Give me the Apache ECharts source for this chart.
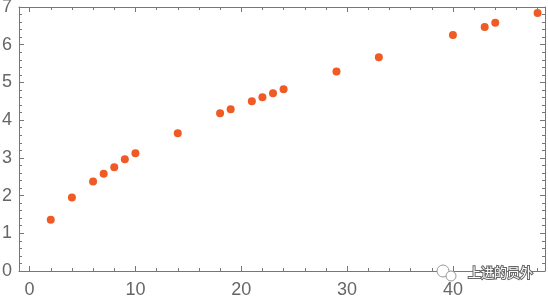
<!DOCTYPE html>
<html>
<head>
<meta charset="utf-8">
<script src="https://cdn.jsdelivr.net/npm/echarts@6/dist/echarts.min.js"></script>
<style>html,body{margin:0;padding:0;background:#fff}#c{width:548px;height:298px}</style>
</head>
<body>
<div id="c"></div>
<script>
const xValues = [2, 4, 6, 7, 8, 9, 10, 14, 18, 19, 21, 22, 23, 24, 29, 33, 40, 43, 44, 48];
const yValues = [1.36, 1.95, 2.37, 2.58, 2.75, 2.96, 3.12, 3.65, 4.18, 4.29, 4.50, 4.61, 4.71, 4.82, 5.29, 5.67, 6.26, 6.47, 6.58, 6.84];
const xMajorTicks = [0, 10, 20, 30, 40];
const xMinorTicks = [2, 4, 6, 8, 12, 14, 16, 18, 22, 24, 26, 28, 32, 34, 36, 38, 42, 44, 46, 48];
const watermark = '上进的员外';

const frameColor = '#777';
const labelColor = '#666';
const font = 'Liberation Sans';
const xMin = -1, xMax = 48.7;

function xAxisDef(pos, ticks, len, showLine, showLabel) {
  return {
    type: 'value', position: pos, min: xMin, max: xMax,
    axisLine: { show: showLine, onZero: false, lineStyle: { color: frameColor, width: 1 } },
    axisTick: { show: true, inside: true, length: len, customValues: ticks, lineStyle: { color: frameColor } },
    axisLabel: { show: showLabel, customValues: ticks, color: labelColor, fontSize: 18, fontFamily: font, margin: 10 },
    splitLine: { show: false }
  };
}
function yAxisDef(pos, showLabel) {
  return {
    type: 'value', position: pos, min: 0, max: 7, interval: 1,
    axisLine: { show: true, onZero: false, lineStyle: { color: frameColor, width: 1 } },
    axisTick: { show: true, inside: true, length: 5, lineStyle: { color: frameColor } },
    minorTick: { show: true, splitNumber: 5, length: 3, lineStyle: { color: frameColor } },
    axisLabel: { show: showLabel, color: labelColor, fontSize: 18, fontFamily: font, margin: 7 },
    splitLine: { show: false }
  };
}

const chart = echarts.init(document.getElementById('c'), null, { renderer: 'canvas' });
chart.setOption({
  animation: false,
  backgroundColor: '#fff',
  grid: { left: 19, right: 3, top: 7, bottom: 27, containLabel: false, outerBoundsMode: 'none' },
  xAxis: [
    xAxisDef('bottom', xMajorTicks, 5, true, true),
    xAxisDef('bottom', xMinorTicks, 3, false, false),
    xAxisDef('top', xMajorTicks, 5, true, false),
    xAxisDef('top', xMinorTicks, 3, false, false)
  ],
  yAxis: [yAxisDef('left', true), yAxisDef('right', false)],
  series: [{
    type: 'scatter',
    xAxisIndex: 0, yAxisIndex: 0,
    symbolSize: 8,
    itemStyle: { color: '#F05A24', opacity: 1 },
    data: xValues.map((x, i) => [x, yValues[i]])
  }],
  graphic: [
    { type: 'circle', shape: { cx: 443, cy: 271, r: 6 }, style: { fill: '#fff', stroke: '#999', lineWidth: 1 }, z: 100 },
    { type: 'circle', shape: { cx: 451, cy: 276, r: 5 }, style: { fill: '#fff', stroke: '#999', lineWidth: 1 }, z: 101 },
    { type: 'text', left: 467, top: 265, z: 102,
      style: { text: watermark, fontSize: 13, fontFamily: 'Noto Sans CJK SC', fill: '#fff', stroke: '#666', lineWidth: 2 } }
  ]
});
</script>
</body>
</html>
